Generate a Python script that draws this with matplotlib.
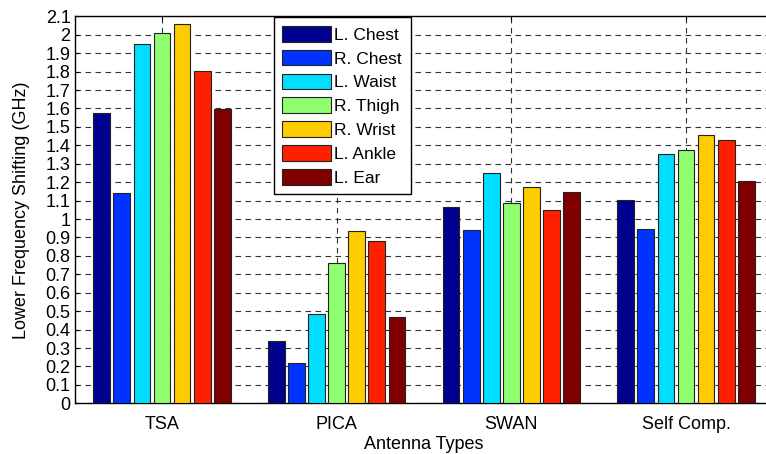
import numpy as np
import matplotlib
matplotlib.use("Agg")
import matplotlib.pyplot as plt

plt.rcParams['font.family'] = ['Liberation Sans', 'DejaVu Sans']

antennas = ["TSA", "PICA", "SWAN", "Self Comp."]
locations = ["L. Chest", "R. Chest", "L. Waist", "R. Thigh", "R. Wrist", "L. Ankle", "L. Ear"]

l_chest = [1.575, 0.338, 1.065, 1.103]
r_chest = [1.143, 0.217, 0.940, 0.946]
l_waist = [1.948, 0.485, 1.251, 1.353]
r_thigh = [2.009, 0.760, 1.085, 1.373]
r_wrist = [2.056, 0.933, 1.172, 1.454]
l_ankle = [1.805, 0.882, 1.047, 1.429]
l_ear = [1.597, 0.467, 1.148, 1.206]

series = [l_chest, r_chest, l_waist, r_thigh, r_wrist, l_ankle, l_ear]
colors = ["#00008F", "#0033FF", "#00DDFF", "#8FFF70", "#FFCC00", "#FF2000", "#800000"]

fig = plt.figure(figsize=(7.66, 4.54), dpi=100)
# the plot box runs a little past the right edge of the canvas
ax = fig.add_axes([74.7 / 766, 1 - 403.3 / 454, (773.3 - 74.7) / 766, (403.3 - 16.3) / 454])

x = np.arange(1, len(antennas) + 1)
pitch = 0.115
width = 0.096
n = len(series)
for i, (vals, c, lab) in enumerate(zip(series, colors, locations)):
    offs = (i - (n - 1) / 2) * pitch
    ax.bar(x + offs, vals, width=width, color=c, edgecolor="#222222",
           linewidth=0.8, label=lab, zorder=3)

yt = np.round(np.arange(0, 2.11, 0.1), 1)
ax.set_xlim(0.5, 4.5)
ax.set_ylim(0, 2.1)
ax.set_yticks(yt)
ax.set_yticklabels([f"{v:g}" for v in yt])
ax.set_xticks(x)
ax.set_xticklabels(antennas)
ax.tick_params(direction="in", length=3, labelsize=13, top=True, right=True)
ax.tick_params(axis="x", pad=9)
ax.tick_params(axis="y", pad=3)
ax.grid(True, linestyle=(0, (5, 4)), color="#333333", linewidth=0.8, zorder=0)
ax.set_axisbelow(True)
for s in ax.spines.values():
    s.set_linewidth(1.0)

ax.set_xlabel("Antenna Types", fontsize=13, labelpad=2)
ax.set_ylabel("Lower Frequency Shifting (GHz)", fontsize=13, labelpad=11)

leg = ax.legend(loc="upper left", bbox_to_anchor=(273.7 / 766, 1 - 17.3 / 454),
                bbox_transform=fig.transFigure, fontsize=12.5, frameon=True,
                fancybox=False, framealpha=1, edgecolor="black",
                handlelength=2.8, handleheight=1.0, handletextpad=0.2,
                labelspacing=0.41, borderpad=0.5, borderaxespad=0)
leg.get_frame().set_linewidth(1.0)

fig.savefig("out.png", dpi=100)
